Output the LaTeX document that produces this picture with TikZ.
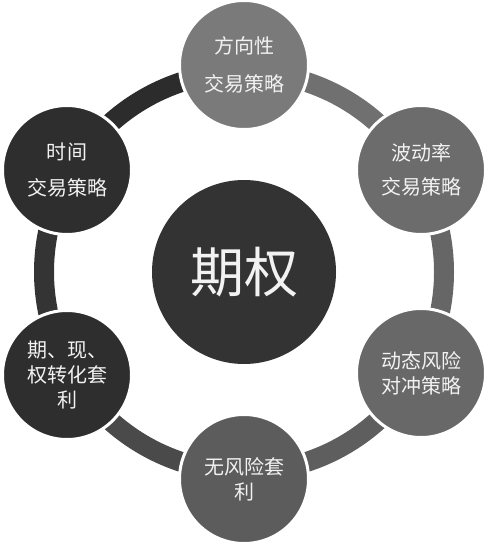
\documentclass[tikz,border=0pt]{standalone}
\usepackage{fontspec}
\newfontfamily\cjk{Noto Sans CJK SC}
\definecolor{cTop}{HTML}{7A7A7A}
\definecolor{cUR}{HTML}{6C6C6C}
\definecolor{cLR}{HTML}{686868}
\definecolor{cB}{HTML}{5C5C5C}
\definecolor{cLL}{HTML}{2E2E2E}
\definecolor{cUL}{HTML}{2E2E2E}
\definecolor{cC}{HTML}{333333}
\definecolor{aA}{HTML}{707070}
\definecolor{aB}{HTML}{666666}
\definecolor{aC}{HTML}{5E5E5E}
\definecolor{aD}{HTML}{4A4A4A}
\definecolor{aE}{HTML}{343434}
\definecolor{aF}{HTML}{2C2C2C}
\definecolor{txt}{HTML}{F2F2F2}
\begin{document}
\begin{tikzpicture}[x=1pt,y=-1pt,
  ringseg/.style={line width=20pt},
  sat/.style={circle, draw=white, line width=3pt, minimum size=129pt, inner sep=0pt, text=txt, align=center},
  hub/.style={circle, fill=cC, minimum size=184pt, inner sep=0pt, text=txt, font=\cjk\fontsize{54}{60}\selectfont}]
\useasboundingbox (0,0) rectangle (488,545);
\coordinate (O) at (244,272);
% ring
\draw[ringseg, aA] ([shift={(O)}]270:200) arc[start angle=270, end angle=330, radius=200];
\draw[ringseg, aB] ([shift={(O)}]330:200) arc[start angle=330, end angle=390, radius=200];
\draw[ringseg, aC] ([shift={(O)}]30:200) arc[start angle=30, end angle=90, radius=200];
\draw[ringseg, aD] ([shift={(O)}]90:200) arc[start angle=90, end angle=150, radius=200];
\draw[ringseg, aE] ([shift={(O)}]150:200) arc[start angle=150, end angle=210, radius=200];
\draw[ringseg, aF] ([shift={(O)}]210:200) arc[start angle=210, end angle=270, radius=200];
% hub
\node[hub] (hub) at (O) {期权};
% satellites
\node[sat, fill=cTop, font=\cjk\fontsize{20}{38}\selectfont] (t) at (244,65) {方向性\\交易策略};
\node[sat, fill=cUR, font=\cjk\fontsize{20}{34}\selectfont] (ur) at (421,170) {波动率\\交易策略};
\node[sat, fill=cLR, font=\cjk\fontsize{20}{25}\selectfont] (lr) at (421,373) {动态风险\\对冲策略};
\node[sat, fill=cB, font=\cjk\fontsize{20}{25}\selectfont] (b) at (244,479) {无风险套\\利};
\node[sat, fill=cLL, font=\cjk\fontsize{20}{25}\selectfont] (ll) at (67,375) {期、现、\\权转化套\\利};
\node[sat, fill=cUL, font=\cjk\fontsize{20}{36}\selectfont] (ul) at (67,170) {时间\\交易策略};
\end{tikzpicture}
\end{document}
